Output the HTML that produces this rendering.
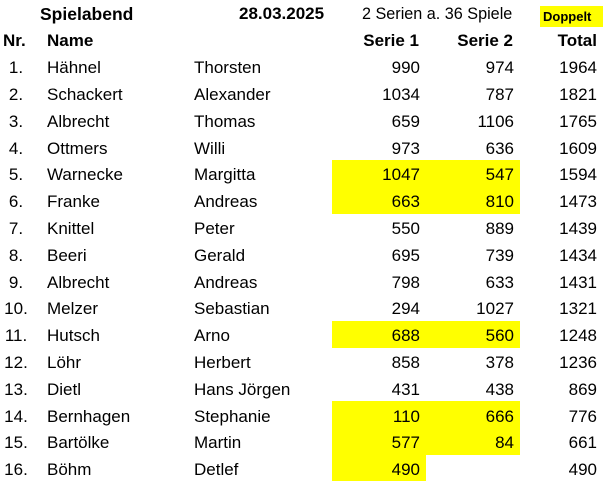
<!DOCTYPE html>
<html><head><meta charset="utf-8"><style>
html,body{margin:0;padding:0;background:#fff;}
body{width:603px;height:481px;position:relative;overflow:hidden;font-family:"Liberation Sans",Arial,sans-serif;color:#000;}
.a{position:absolute;white-space:nowrap;font-size:17px;line-height:20px;}
.b{font-weight:bold;}
.y{position:absolute;background:#ffff00;}
.row{position:absolute;left:0;width:603px;height:20px;}
.row span{position:absolute;top:0;white-space:nowrap;font-size:17px;line-height:20px;}
.nr{left:0;width:32px;text-align:center;}
.ln{left:47px;}
.fn{left:194px;}
.s1{right:183px;text-align:right;}
.s2{right:89px;text-align:right;}
.t{right:6px;text-align:right;}
</style></head><body>
<div class="y" style="left:540px;top:6px;width:63px;height:21px;"></div>
<div class="y" style="left:332px;top:160px;width:188px;height:53.6px;"></div>
<div class="y" style="left:332px;top:321px;width:188px;height:26.8px;"></div>
<div class="y" style="left:332px;top:401.4px;width:188px;height:53.6px;"></div>
<div class="y" style="left:332px;top:455px;width:94px;height:26px;"></div>

<div class="a b" style="left:40px;top:4px;font-size:17.5px;">Spielabend</div>
<div class="a b" style="left:239px;top:4px;">28.03.2025</div>
<div class="a" style="left:362px;top:4px;font-size:16.2px;">2 Serien a. 36 Spiele</div>
<div class="a b" style="left:543px;top:6.5px;font-size:13px;">Doppelt</div>

<div class="a b" style="left:3px;top:31px;">Nr.</div>
<div class="a b" style="left:47px;top:31px;">Name</div>
<div class="a b" style="right:184px;top:31px;">Serie 1</div>
<div class="a b" style="right:90px;top:31px;">Serie 2</div>
<div class="a b" style="right:6px;top:31px;">Total</div>

<div class="row" style="top:58.1px"><span class="nr">1.</span><span class="ln">Hähnel</span><span class="fn">Thorsten</span><span class="s1">990</span><span class="s2">974</span><span class="t">1964</span></div>
<div class="row" style="top:84.9px"><span class="nr">2.</span><span class="ln">Schackert</span><span class="fn">Alexander</span><span class="s1">1034</span><span class="s2">787</span><span class="t">1821</span></div>
<div class="row" style="top:111.7px"><span class="nr">3.</span><span class="ln">Albrecht</span><span class="fn">Thomas</span><span class="s1">659</span><span class="s2">1106</span><span class="t">1765</span></div>
<div class="row" style="top:138.5px"><span class="nr">4.</span><span class="ln">Ottmers</span><span class="fn">Willi</span><span class="s1">973</span><span class="s2">636</span><span class="t">1609</span></div>
<div class="row" style="top:165.3px"><span class="nr">5.</span><span class="ln">Warnecke</span><span class="fn">Margitta</span><span class="s1">1047</span><span class="s2">547</span><span class="t">1594</span></div>
<div class="row" style="top:192.1px"><span class="nr">6.</span><span class="ln">Franke</span><span class="fn">Andreas</span><span class="s1">663</span><span class="s2">810</span><span class="t">1473</span></div>
<div class="row" style="top:218.9px"><span class="nr">7.</span><span class="ln">Knittel</span><span class="fn">Peter</span><span class="s1">550</span><span class="s2">889</span><span class="t">1439</span></div>
<div class="row" style="top:245.7px"><span class="nr">8.</span><span class="ln">Beeri</span><span class="fn">Gerald</span><span class="s1">695</span><span class="s2">739</span><span class="t">1434</span></div>
<div class="row" style="top:272.5px"><span class="nr">9.</span><span class="ln">Albrecht</span><span class="fn">Andreas</span><span class="s1">798</span><span class="s2">633</span><span class="t">1431</span></div>
<div class="row" style="top:299.3px"><span class="nr">10.</span><span class="ln">Melzer</span><span class="fn">Sebastian</span><span class="s1">294</span><span class="s2">1027</span><span class="t">1321</span></div>
<div class="row" style="top:326.1px"><span class="nr">11.</span><span class="ln">Hutsch</span><span class="fn">Arno</span><span class="s1">688</span><span class="s2">560</span><span class="t">1248</span></div>
<div class="row" style="top:352.9px"><span class="nr">12.</span><span class="ln">Löhr</span><span class="fn">Herbert</span><span class="s1">858</span><span class="s2">378</span><span class="t">1236</span></div>
<div class="row" style="top:379.7px"><span class="nr">13.</span><span class="ln">Dietl</span><span class="fn">Hans Jörgen</span><span class="s1">431</span><span class="s2">438</span><span class="t">869</span></div>
<div class="row" style="top:406.5px"><span class="nr">14.</span><span class="ln">Bernhagen</span><span class="fn">Stephanie</span><span class="s1">110</span><span class="s2">666</span><span class="t">776</span></div>
<div class="row" style="top:433.3px"><span class="nr">15.</span><span class="ln">Bartölke</span><span class="fn">Martin</span><span class="s1">577</span><span class="s2">84</span><span class="t">661</span></div>
<div class="row" style="top:460.1px"><span class="nr">16.</span><span class="ln">Böhm</span><span class="fn">Detlef</span><span class="s1">490</span><span class="t">490</span></div>
</body></html>
